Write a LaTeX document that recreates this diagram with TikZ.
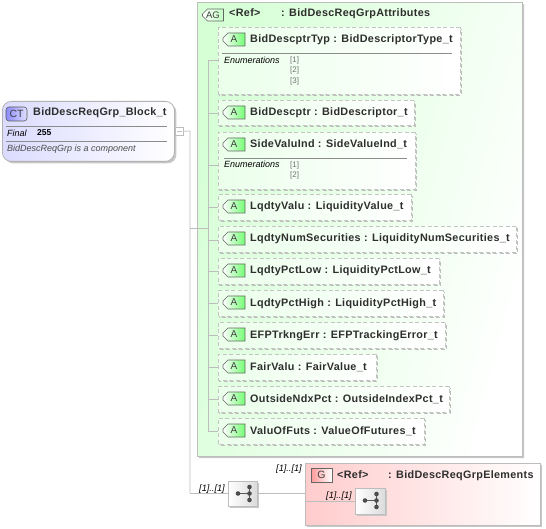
\documentclass[tikz,border=0pt]{standalone}
\usepackage{fontspec}
\setmainfont{Liberation Sans}
\newfontfamily\ttl[LetterSpace=3]{Liberation Sans}
\newfontfamily\ctl[LetterSpace=2.5]{Liberation Sans}
\usetikzlibrary{shapes.misc,shadows,positioning}
\definecolor{lineg}{HTML}{BDBDBD}
\definecolor{dashg}{HTML}{C4C4C4}
\definecolor{txt}{HTML}{2E2E2E}
\tikzset{
  x=1pt,y=-1pt,
  conn/.style={draw=lineg,line width=.7pt},
  shad/.style={general shadow={shadow xshift=2pt,shadow yshift=-2pt,fill=black!22}},
  agbox/.style={chamfered rectangle,chamfered rectangle corners={north west,south west},chamfered rectangle xsep=9pt,chamfered rectangle ysep=9pt,
    draw=lineg,line width=.6pt,left color=green!16,right color=white,shading angle=75,shad,anchor=north west,inner sep=0pt},
  attr/.style={chamfered rectangle,chamfered rectangle corners={north west,south west},chamfered rectangle xsep=8pt,chamfered rectangle ysep=8pt,
    draw=dashg,dash pattern=on 4pt off 2.5pt,line width=1pt,left color=green!8,right color=white,
    general shadow={shadow xshift=1.3pt,shadow yshift=-1.3pt,fill=none,draw=black!25,line width=.9pt,dash pattern=on 4pt off 2.5pt},anchor=north west,inner sep=0pt},
  aicon/.style={chamfered rectangle,chamfered rectangle corners={north west,south west},chamfered rectangle xsep=2.5pt,chamfered rectangle ysep=2.5pt,
    draw=black!60,line width=.6pt,left color=white,right color=green!55,minimum width=22pt,minimum height=13pt,inner sep=0pt,font=\fontsize{10}{10}\selectfont,text=black!75},
  title/.style={font=\ttl\bfseries\fontsize{10.8}{12}\selectfont,text=txt,anchor=base west,inner sep=0pt},
  enumh/.style={font=\itshape\fontsize{9}{10}\selectfont,text=black,anchor=base west,inner sep=0pt},
  enumv/.style={font=\fontsize{8}{9}\selectfont,text=black!55,anchor=base west,inner sep=0pt},
  occ/.style={font=\itshape\fontsize{9.2}{10}\selectfont,text=black,anchor=base west,inner sep=0pt},
  seqicon/.style={draw=lineg,line width=.6pt,left color=white,right color=black!14,shad,inner sep=0pt,anchor=north west},
  sepl/.style={draw=black!45,line width=.6pt},
}
\newcommand{\attrnode}[6]{%
  \node[attr,minimum width=#4pt,minimum height=#5pt] (#1) at (#2,#3) {};
  \node[aicon] (#1i) at (#2+16,#3+12.5) {A};
  \node[title] (#1t) at (#2+32,#3+16) {#6};
}
\newcommand{\seqglyph}[2]{%
  \draw[black!65,line width=.8pt] (#1-5.5,#2) -- (#1+6,#2) (#1+6,#2-6.5) -- (#1+6,#2+6.5);
  \fill[black!70] (#1-5.5,#2) circle (2.3pt) (#1+6,#2-6.5) circle (2.3pt) (#1+6,#2) circle (2.3pt) (#1+6,#2+6.5) circle (2.3pt);
}
\begin{document}
\begin{tikzpicture}
\useasboundingbox (0,0) rectangle (546,529);
\fill[white] (0,0) rectangle (546,529);
% Complex type
\node[rounded corners=9pt,draw=black!30,line width=.8pt,left color=blue!14,right color=white,shad,anchor=north west,minimum width=172pt,minimum height=60pt,inner sep=0pt] (ct) at (2,101) {};
\node[rounded corners=3pt,draw=black!65,line width=.6pt,left color=blue!45,right color=blue!12,minimum width=21pt,minimum height=14pt,inner sep=0pt,font=\fontsize{10.5}{10}\selectfont,text=black!75] (cti) at (16.5,114) {CT};
\node[title,font=\ctl\bfseries\fontsize{10.8}{12}\selectfont] (ctt) at (33,116) {BidDescReqGrp\_Block\_t};
\draw[sepl] (6,126) -- (167,126) (6,141) -- (167,141);
\node[enumh] (ctf) at (7,137) {Final};
\node[enumh,font=\bfseries\fontsize{8.5}{9}\selectfont] (ctv) at (37,136) {255};
\node[enumh,text=black!70] (ctd) at (7,152) {BidDescReqGrp is a component};
\node[draw=lineg,fill=white,line width=.6pt,minimum size=8pt,inner sep=0pt,anchor=north west] (exp) at (175,127) {};
\draw[lineg,line width=.6pt] (177,131) -- (182,131);
% Coordinates
\coordinate (j1) at (190,131);
\coordinate (j2) at (190,228);
\coordinate (j3) at (190,493);
% AG group
\node[agbox,minimum width=325pt,minimum height=454pt] (ag) at (197,2) {};
\node[aicon,minimum width=21pt,minimum height=12pt,right color=green!25,font=\fontsize{9.5}{10}\selectfont] (agi) at (213,15) {AG};
\node[title] (agt) at (229,17) {<Ref>};
\node[title] (agt2) at (281,17) {: BidDescReqGrpAttributes};
% connectors
\coordinate (tr0) at (208,60);
\coordinate (tr1) at (208,431);
\coordinate (tr2) at (208,228);
\draw[conn] (exp.east) -- (j1) -- (j3);
\draw[conn] (j2) -- (tr2);
\draw[conn] (tr0) -- (tr1);
% attributes
\attrnode{a1}{218}{27}{242}{67}{BidDescptrTyp : BidDescriptorType\_t}
\attrnode{a2}{218}{100}{196}{25}{BidDescptr : BidDescriptor\_t}
\attrnode{a3}{218}{132}{197}{57}{SideValuInd : SideValueInd\_t}
\attrnode{a4}{218}{194}{193}{26}{LqdtyValu : LiquidityValue\_t}
\attrnode{a5}{218}{226}{298}{26}{LqdtyNumSecurities : LiquidityNumSecurities\_t}
\attrnode{a6}{218}{258}{221}{26}{LqdtyPctLow : LiquidityPctLow\_t}
\attrnode{a7}{218}{290}{225}{26}{LqdtyPctHigh : LiquidityPctHigh\_t}
\attrnode{a8}{218}{322}{227}{26}{EFPTrkngErr : EFPTrackingError\_t}
\attrnode{a9}{218}{354}{158}{26}{FairValu : FairValue\_t}
\attrnode{a10}{218}{386}{231}{26}{OutsideNdxPct : OutsideIndexPct\_t}
\attrnode{a11}{218}{418}{206}{26}{ValuOfFuts : ValueOfFutures\_t}
\foreach \n/\y in {a1/60,a2/113,a3/165,a4/207,a5/240,a6/271,a7/303,a8/335,a9/367,a10/399,a11/431}{
  \coordinate (t\n) at (208,\y);
  \draw[conn] (t\n) -- (\n.west |- t\n);
}
% enumerations
\draw[sepl] (222,53) -- (452,53);
\node[enumh] (e1) at (224,64) {Enumerations};
\node[enumv] (e11) at (290,63) {[1]};
\node[enumv] (e12) at (290,73) {[2]};
\node[enumv] (e13) at (290,84) {[3]};
\draw[sepl] (224,158) -- (407,158);
\node[enumh] (e2) at (224,168) {Enumerations};
\node[enumv] (e21) at (290,168) {[1]};
\node[enumv] (e22) at (290,178) {[2]};
% Group
\node[draw=lineg,line width=.8pt,left color=red!20,right color=white,shad,anchor=north west,minimum width=235pt,minimum height=62pt,inner sep=0pt] (grp) at (305,463) {};
% sequence
\node[seqicon,minimum width=29pt,minimum height=25pt] (seq) at (228,481) {};
\seqglyph{243.5}{493.5}
\node[occ] (o1) at (199,491) {[1]..[1]};
\draw[conn] (j3) -- (seq.west |- j3);
\node[draw=black!60,line width=.6pt,left color=red!40,right color=white,minimum width=21pt,minimum height=14pt,inner sep=0pt,font=\fontsize{10.5}{10}\selectfont,text=black!75] (gi) at (321.5,475) {G};
\node[title] (gt) at (337,478) {<Ref>};
\node[title] (gt2) at (388,478) {: BidDescReqGrpElements};
\node[occ] (o2) at (276,471) {[1]..[1]};
\node[seqicon,minimum width=30pt,minimum height=26pt] (seq2) at (355,488) {};
\seqglyph{370.5}{500.5}
\node[occ] (o3) at (326,498) {[1]..[1]};
\coordinate (gl) at (305,501);
\draw[conn] (seq.east |- j3) -- (grp.west |- j3);
\draw[conn] (gl) -- (seq2.west |- gl);
\end{tikzpicture}
\end{document}
